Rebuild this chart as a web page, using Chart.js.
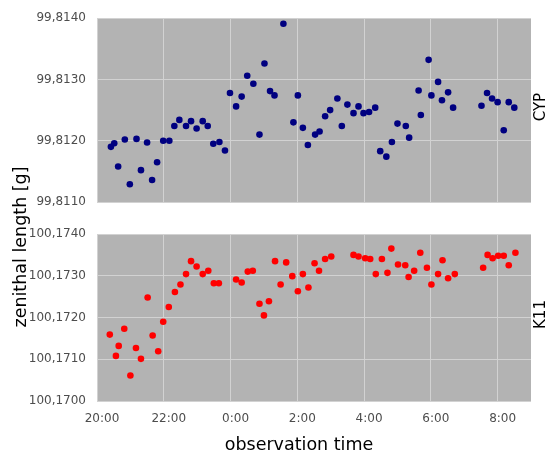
<!DOCTYPE html>
<html><head><meta charset="utf-8">
<script src="https://cdn.jsdelivr.net/npm/chart.js@4/dist/chart.umd.min.js"></script>
<style>
html,body{margin:0;padding:0;background:#fff;}
#wrap{position:relative;width:554px;height:455px;}
canvas{position:absolute;left:0;top:0;}
</style></head><body>
<div id="wrap"><canvas id="c1" width="554" height="455"></canvas><canvas id="c2" width="554" height="455"></canvas></div>
<script>
const cypTimes = ["20:25","20:31","20:38","20:50","20:59","21:11","21:19","21:30","21:39","21:48",
  "21:59","22:10","22:19","22:28","22:40","22:49","22:59","23:10","23:19","23:29",
  "23:40","23:50","23:59","0:10","0:20","0:30","0:41","0:52","1:01","1:11",
  "1:19","1:35","1:53","2:01","2:10","2:19","2:32","2:40","2:50","2:59",
  "3:12","3:20","3:30","3:41","3:50","3:59","4:09","4:20","4:29","4:40",
  "4:50","5:00","5:15","5:21","5:38","5:42","5:56","6:01","6:13","6:20",
  "6:31","6:40","7:31","7:41","7:50","8:00","8:11","8:20","8:30"];
const cypValues = [99.81190, 99.81196, 99.81158, 99.81202, 99.81129, 99.81203, 99.81152, 99.81197, 99.81136, 99.81165,
  99.81200, 99.81200, 99.81224, 99.81234, 99.81224, 99.81232, 99.81220, 99.81232, 99.81224, 99.81195,
  99.81198, 99.81184, 99.81278, 99.81256, 99.81272, 99.81306, 99.81293, 99.81210, 99.81326, 99.81281,
  99.81274, 99.81391, 99.81230, 99.81274, 99.81221, 99.81193, 99.81210, 99.81215, 99.81240, 99.81250,
  99.81269, 99.81224, 99.81259, 99.81245, 99.81256, 99.81245, 99.81247, 99.81254, 99.81183, 99.81174,
  99.81198, 99.81228, 99.81224, 99.81205, 99.81282, 99.81242, 99.81332, 99.81274, 99.81296, 99.81266,
  99.81279, 99.81254, 99.81257, 99.81278, 99.81269, 99.81263, 99.81217, 99.81263, 99.81254];
const k11Times = ["20:23","20:34","20:39","20:49","21:00","21:10","21:19","21:31","21:40","21:50",
  "21:59","22:09","22:20","22:30","22:40","22:49","22:59","23:10","23:20","23:30",
  "23:39","0:10","0:20","0:31","0:40","0:52","1:00","1:09","1:20","1:30",
  "1:40","1:51","2:01","2:10","2:20","2:31","2:39","2:50","3:01","3:41",
  "3:50","4:02","4:11","4:21","4:32","4:42","4:49","5:01","5:14","5:20",
  "5:30","5:41","5:53","6:01","6:13","6:21","6:31","6:43","7:34","7:42",
  "7:51","8:01","8:11","8:20","8:32"];
const k11Values = [100.17159, 100.17108, 100.17132, 100.17173, 100.17061, 100.17127, 100.17101, 100.17248, 100.17157, 100.17119,
  100.17190, 100.17225, 100.17261, 100.17279, 100.17304, 100.17335, 100.17322, 100.17304, 100.17312, 100.17282,
  100.17282, 100.17291, 100.17284, 100.17310, 100.17312, 100.17233, 100.17205, 100.17239, 100.17335, 100.17279,
  100.17332, 100.17299, 100.17263, 100.17304, 100.17272, 100.17330, 100.17312, 100.17340, 100.17346, 100.17350,
  100.17346, 100.17342, 100.17340, 100.17304, 100.17340, 100.17307, 100.17365, 100.17327, 100.17325, 100.17297,
  100.17312, 100.17355, 100.17319, 100.17279, 100.17304, 100.17337, 100.17294, 100.17304, 100.17319, 100.17350,
  100.17342, 100.17348, 100.17348, 100.17325, 100.17355];
const timeTicks = ["20:00","22:00","0:00","2:00","4:00","6:00","8:00"];
const timeRange = ["20:00","9:00"];
const cypTicks = [99.811, 99.812, 99.813, 99.814];
const k11Ticks = [100.170, 100.171, 100.172, 100.173, 100.174];
const panelLabels = ["CYP", "K11"];
const yTitle = "zenithal length [g]";
const xTitle = "observation time";

const FONT = "'DejaVu Sans', sans-serif";
const GRID = "#d2d2d2";
const PANEL_BG = "#b3b3b3";
const TICK_COLOR = "#4d4d4d";

function toMin(t){
  const p = t.split(':').map(Number);
  let v = p[0]*60 + p[1];
  if (p[0] < 12) v += 1440;
  return v - 1200;
}

const bgPlugin = {
  id: 'panelBg',
  beforeDraw(chart){
    const a = chart.chartArea, ctx = chart.ctx;
    ctx.save();
    ctx.fillStyle = PANEL_BG;
    ctx.fillRect(a.left, a.top, a.right - a.left, a.bottom - a.top);
    ctx.restore();
  }
};

function labelPlugin(label, isBottom){
  return {
    id: 'labels',
    afterDraw(chart){
      const a = chart.chartArea, ctx = chart.ctx;
      ctx.save();
      ctx.fillStyle = '#000';
      ctx.font = '15px ' + FONT;
      ctx.textAlign = 'center';
      ctx.textBaseline = 'middle';
      ctx.translate(541, (a.top + a.bottom)/2 - 3);
      ctx.rotate(-Math.PI/2);
      ctx.fillText(label, 0, 0);
      ctx.restore();
      if (isBottom){
        ctx.save();
        ctx.fillStyle = '#000';
        ctx.font = '17.5px ' + FONT;
        ctx.textAlign = 'center';
        ctx.textBaseline = 'alphabetic';
        ctx.fillText(xTitle, 299, 450);
        ctx.translate(25.5, 247);
        ctx.rotate(-Math.PI/2);
        ctx.fillText(yTitle, 0, 0);
        ctx.restore();
      }
    }
  };
}

function makePanel(id, times, values, color, yTicks, label, isBottom){
  const pts = times.map((t, i) => ({x: toMin(t), y: values[i]}));
  return new Chart(document.getElementById(id), {
    type: 'scatter',
    data: { datasets: [{ data: pts, backgroundColor: color, borderWidth: 0, pointRadius: 3.3, pointHoverRadius: 3.3 }] },
    options: {
      responsive: false, animation: false, devicePixelRatio: 1, events: [],
      layout: { padding: { left: 0, right: 23, top: isBottom ? 234 : 15, bottom: isBottom ? 0 : 253 } },
      plugins: { legend: { display: false }, tooltip: { enabled: false } },
      scales: {
        x: {
          type: 'linear', min: toMin(timeRange[0]), max: toMin(timeRange[1]),
          afterBuildTicks: s => { s.ticks = timeTicks.map(t => ({ value: toMin(t) })); },
          afterFit: s => { s.height = isBottom ? 54 : 0; },
          grid: { color: GRID, lineWidth: 1, drawTicks: false },
          border: { display: false },
          ticks: { display: isBottom, padding: 11, labelOffset: 5, color: TICK_COLOR, font: { family: FONT, size: 12 },
                   maxRotation: 0, autoSkip: false, callback: (v, i) => timeTicks[i] }
        },
        y: {
          type: 'linear', min: yTicks[0], max: yTicks[yTicks.length - 1],
          afterBuildTicks: s => { s.ticks = yTicks.map(v => ({ value: v })); },
          afterFit: s => { s.width = 97; },
          grid: { color: GRID, lineWidth: 1, drawTicks: false },
          border: { display: false },
          ticks: { padding: 11, color: TICK_COLOR, font: { family: FONT, size: 12 },
                   callback: v => Number(v).toFixed(4).replace('.', ',') }
        }
      }
    },
    plugins: [bgPlugin, labelPlugin(label, isBottom)]
  });
}

makePanel('c1', cypTimes, cypValues, '#000080', cypTicks, panelLabels[0], false);
makePanel('c2', k11Times, k11Values, '#ff0000', k11Ticks, panelLabels[1], true);
</script>
</body></html>
